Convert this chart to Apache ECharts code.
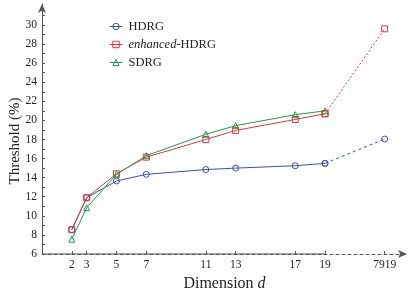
<!DOCTYPE html>
<html>
<head>
<meta charset="utf-8">
<script src="https://cdn.jsdelivr.net/npm/echarts@6/dist/echarts.min.js"></script>
<style>html,body{margin:0;padding:0;background:#fff}#c{width:415px;height:297px}</style>
</head>
<body>
<div id="c"></div>
<script>
// x positions used for dimensions (7919 is drawn at position 23 on a broken axis)
const dims = [2, 3, 5, 7, 11, 13, 17, 19];
const farDimPos = 23;
const farDimLabel = '7919';
const hdrg = [8.55, 11.9, 13.65, 14.35, 14.85, 15.0, 15.25, 15.5];
const hdrgFar = 18.05;
const enhanced = [8.55, 11.9, 14.4, 16.15, 18.0, 18.95, 20.1, 20.7];
const enhancedFar = 29.6;
const sdrg = [7.55, 10.85, 14.35, 16.3, 18.55, 19.45, 20.6, 21.0];
const yLabels = [6, 8, 10, 12, 14, 16, 18, 20, 22, 24, 26, 28, 30];
const yTicks = [7, 8, 9, 10, 11, 12, 13, 14, 15, 16, 17, 18, 19, 20, 21, 22, 23, 24, 25, 26, 27, 28, 29, 30, 31];
const xTicks = [2, 3, 5, 7, 11, 13, 17, 19, 23];

const FONT = 'Liberation Serif';
const TXT = '#222';
const AX = '#555';
const BLUE = '#3a4fb0';
const RED = '#e8323c';
const GREEN = '#1d9b4f';
const CLEAR = 'rgba(255,255,255,0)';

const pairs = (xs, ys) => xs.map((x, i) => [x, ys[i]]);
const last = dims.length - 1;

const mk = (name, color, symbol, data, dash) => ({
  name, type: 'line', data, symbol, symbolSize: 6,
  lineStyle: { color, width: 1, type: dash || 'solid' },
  itemStyle: { color: CLEAR, borderColor: color, borderWidth: 1 },
  emphasis: { disabled: true }, z: 3
});
const legendItem = (name, color) => ({
  name,
  itemStyle: { color: CLEAR, borderColor: color, borderWidth: 1 },
  lineStyle: { color: color, width: 1 }
});

const chart = echarts.init(document.getElementById('c'), null, { renderer: 'canvas' });
chart.setOption({
  animation: false,
  grid: { left: 42, right: 8, top: 4, bottom: 41, containLabel: false },
  legend: {
    data: [
      legendItem('HDRG', BLUE),
      legendItem('enhanced-HDRG', RED),
      legendItem('SDRG', GREEN)
    ],
    orient: 'vertical', left: 104, top: 15,
    itemWidth: 13, itemHeight: 8, itemGap: 5,
    textStyle: { fontFamily: FONT, fontSize: 12.5, color: TXT, padding: [0, 0, 0, 1],
      rich: { i: { fontFamily: FONT, fontSize: 12.5, fontStyle: 'italic', color: TXT } } },
    formatter: n => n === 'enhanced-HDRG' ? '{i|enhanced}-HDRG' : n
  },
  graphic: [{
    type: 'text', x: 15, y: 141, rotation: Math.PI / 2,
    style: { text: 'Threshold (%)', fontFamily: FONT, fontSize: 15, fill: TXT,
      align: 'center', verticalAlign: 'middle' }
  }],
  xAxis: {
    type: 'value', min: 0, max: 24.5,
    name: 'Dimension {i|d}', nameLocation: 'middle', nameGap: 22,
    nameTextStyle: { fontFamily: FONT, fontSize: 16, color: TXT,
      rich: { i: { fontFamily: FONT, fontSize: 16, fontStyle: 'italic', color: TXT } } },
    axisLine: { show: true, symbol: ['none', 'arrow'], symbolSize: [6, 9],
      lineStyle: { color: AX, width: 1, type: [3, 3] } },
    axisTick: { show: true, inside: true, length: 3, customValues: xTicks, lineStyle: { color: AX } },
    axisLabel: { customValues: xTicks, margin: 5, fontFamily: FONT, fontSize: 11.5, color: TXT,
      formatter: v => v === farDimPos ? farDimLabel : String(v) },
    splitLine: { show: false }
  },
  yAxis: {
    type: 'value', min: 6, max: 32.2,
    axisLine: { show: true, symbol: ['none', 'arrow'], symbolSize: [6, 9],
      lineStyle: { color: AX, width: 1 } },
    axisTick: { show: true, inside: true, length: 3, customValues: yTicks, lineStyle: { color: AX } },
    axisLabel: { customValues: yLabels, margin: 5, fontFamily: FONT, fontSize: 11.5, color: TXT },
    splitLine: { show: false }
  },
  series: [
    { type: 'line', data: [[0, 6], [dims[last], 6]], symbol: 'none', silent: true, clip: false,
      lineStyle: { color: AX, width: 1 }, z: 1, emphasis: { disabled: true } },
    mk('HDRG', BLUE, 'circle', pairs(dims, hdrg)),
    mk('HDRG', BLUE, 'circle', [[dims[last], hdrg[last]], [farDimPos, hdrgFar]], [3, 3]),
    mk('enhanced-HDRG', RED, 'rect', pairs(dims, enhanced)),
    mk('enhanced-HDRG', RED, 'rect', [[dims[last], enhanced[last]], [farDimPos, enhancedFar]], [2, 2]),
    mk('SDRG', GREEN, 'triangle', pairs(dims, sdrg))
  ]
});
</script>
</body>
</html>
